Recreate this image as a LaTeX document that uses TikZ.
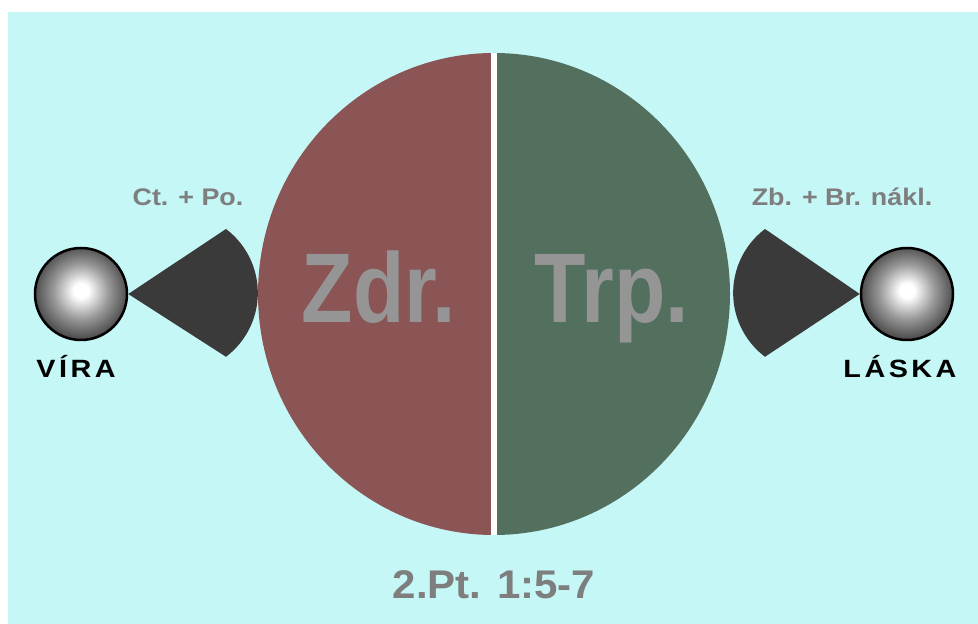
\documentclass[tikz,border=0pt]{standalone}
\usepackage{fontspec}
\setmainfont{Liberation Sans}
\newfontfamily\bigfont[FakeStretch=0.85]{Liberation Sans}
\newfontfamily\labfont[FakeStretch=1.12]{Liberation Sans}
\newfontfamily\versefont[FakeStretch=1.05]{Liberation Sans}
\newfontfamily\namefont[FakeStretch=1.15, LetterSpace=14]{Liberation Sans}
\usepackage{xcolor}

\definecolor{bgcyan}{HTML}{C5F7F6}
\definecolor{zdrred}{HTML}{8B5555}
\definecolor{trpgreen}{HTML}{53705F}
\definecolor{wedgegray}{HTML}{3A3A3A}
\definecolor{bigtext}{HTML}{959595}
\definecolor{labtext}{HTML}{7E7E7E}

\pgfdeclareradialshading{sphereshade}{\pgfpoint{0bp}{2bp}}{%
  color(0bp)=(white); color(4bp)=(white); color(15bp)=(black!40);
  color(26bp)=(black!72); color(36bp)=(black!90); color(50bp)=(black)}

\begin{document}
\begin{tikzpicture}[
    x=1pt, y=1pt,
    sphere/.style={
        circle,
        draw=black,
        line width=2.5pt,
        shading=sphereshade,
        minimum size=92pt,
        inner sep=0pt
    },
    wedge/.style={fill=wedgegray},
    halftext/.style={anchor=base, text=bigtext, font=\bigfont\bfseries\fontsize{99}{99}\selectfont},
    gift/.style={anchor=base, text=labtext, font=\labfont\bfseries\fontsize{24}{24}\selectfont},
    virtue/.style={anchor=base, text=black, font=\namefont\bfseries\fontsize{25}{25}\selectfont}
]

\useasboundingbox (0,0) rectangle (978,624);
\fill[bgcyan] (8,0) rectangle (978,612);

\fill[zdrred] (494,571) arc[start angle=90, end angle=270, x radius=236, y radius=241] -- cycle;
\fill[trpgreen] (494,571) arc[start angle=90, end angle=-90, x radius=236, y radius=241] -- cycle;
\draw[white, line width=6pt] (494,571) -- (494,89);

\node[halftext] (zdr) at (379,301) {Zdr.};
\node[halftext] (trp) at (612,301) {Trp.};

\node[sphere] (vira) at (81,330) {};
\node[sphere] (laska) at (907,330) {};

\fill[wedge] (vira.east) -- (226,395) arc[start angle=53, end angle=-53, radius=80] -- cycle;
\fill[wedge] (laska.west) -- (765,395) arc[start angle=127, end angle=233, radius=80] -- cycle;

\node[gift] (ctpo) at (188,418) {Ct. + Po.};
\node[gift] (zbbr) at (842,418) {Zb. + Br. nákl.};

\node[virtue] (viratext) at (76,246) {VÍRA};
\node[virtue] (laskatext) at (900,246) {LÁSKA};

\node[anchor=base, text=labtext, font=\versefont\bfseries\fontsize{40}{40}\selectfont] (verse) at (494,25) {2.Pt. 1:5-7};

\end{tikzpicture}
\end{document}
